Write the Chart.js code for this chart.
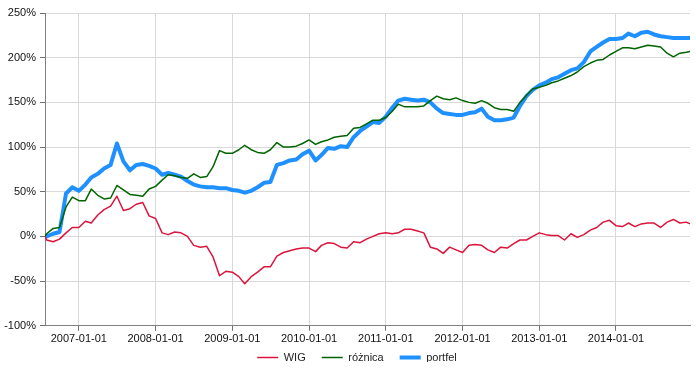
<!DOCTYPE html>
<html>
<head>
<meta charset="utf-8">
<script src="https://cdn.jsdelivr.net/npm/chart.js@4/dist/chart.umd.min.js"></script>
<style>
  html, body { margin: 0; padding: 0; background: #fff; }
  #wrap { width: 696px; height: 374px; }
</style>
</head>
<body>
<div id="wrap"><canvas id="myChart"></canvas></div>
<script>
// Dates (one point per month)
const dates = ['2006-07-24',
    '2006-08-01', '2006-09-01', '2006-10-01', '2006-11-01', '2006-12-01'];
for (let y = 2007; y <= 2014; y++) {
    for (let m = 1; m <= 12; m++) {
        dates.push(y + '-' + (m < 10 ? '0' + m : m) + '-01');
    }
}
dates.push('2014-12-19');

// Series values (%)
const wig = [0,
    -4, -6, -3, 4, 10,
    10, 17, 15, 24, 30, 34, 45, 29, 31, 36, 38, 23,
    20, 4, 2, 5, 4, 0, -10, -12, -11, -23, -44, -39,
    -40, -45, -53, -45, -40, -34, -34, -22, -18, -16, -14, -13,
    -13, -17, -10, -7, -8, -12, -13, -6, -7, -3, 0, 3,
    4, 3, 4, 8, 8, 6, 4, -12, -14, -19, -12, -15,
    -18, -10, -9, -10, -15, -18, -12, -13, -8, -4, -4, 0,
    4, 2, 1, 1, -4, 3, -1, 2, 7, 10, 16, 18,
    12, 11, 15, 11, 14, 15, 15, 10, 16, 19, 15, 16,
    14];

const roznica = [0,
    3, 9, 10, 33, 44,
    40, 40, 53, 46, 42, 43, 57, 52, 47, 46, 45, 53,
    56, 63, 69, 68, 66, 65, 70, 66, 67, 78, 96, 93,
    93, 97, 102, 97, 94, 93, 97, 105, 100, 100, 101, 104,
    108, 103, 106, 108, 111, 112, 113, 121, 122, 126, 130, 130,
    133, 140, 148, 145, 145, 145, 146, 152, 157, 154, 153, 155,
    152, 150, 149, 152, 149, 144, 142, 142, 140, 150, 158, 165,
    167, 169, 172, 174, 177, 180, 184, 190, 194, 197, 198, 203,
    207, 211, 211, 210, 212, 214, 213, 212, 205, 201, 205, 206,
    207];

const portfel = [0,
    0, 3, 5, 48, 55,
    51, 58, 66, 70, 76, 80, 104, 84, 74, 80, 81, 79,
    76, 69, 71, 69, 67, 62, 58, 56, 55, 55, 54, 54,
    52, 51, 49, 51, 55, 60, 61, 80, 82, 85, 86, 92,
    96, 85, 91, 99, 98, 101, 100, 111, 118, 123, 128, 127,
    134, 144, 152, 154, 153, 152, 153, 150, 143, 138, 137, 136,
    136, 138, 139, 143, 134, 130, 130, 131, 133, 146, 157, 164,
    169, 172, 176, 178, 182, 186, 188, 195, 207, 212, 217, 221,
    221, 222, 227, 224, 228, 229, 226, 224, 223, 222, 222, 222,
    222];

// Tick labels of the x axis
const yearTicks = [2007, 2008, 2009, 2010, 2011, 2012, 2013, 2014];

// Conversion d'une date en année décimale
function toYear(s) {
    const p = s.split('-');
    const y = parseInt(p[0]);
    const t = Date.UTC(y, parseInt(p[1]) - 1, parseInt(p[2]));
    const t0 = Date.UTC(y, 0, 1);
    const t1 = Date.UTC(y + 1, 0, 1);
    return y + (t - t0) / (t1 - t0);
}

function points(values) {
    let pts = [];
    for (let i = 0; i < values.length; i++) {
        pts.push({ x: toYear(dates[i]), y: values[i] });
    }
    return pts;
}

// Décalage de la légende (placement comme sur l'original)
const legendShift = {
    id: 'legendShift',
    afterLayout: function(chart) {
        const lg = chart.legend;
        lg.top -= 12; lg.bottom -= 12;
        lg.left += 12; lg.right += 12;
    }
};

Chart.defaults.font.family = '"Liberation Sans", Arial, sans-serif';
Chart.defaults.font.size = 11;
Chart.defaults.color = '#111';

const ctx = document.getElementById('myChart');

new Chart(ctx, {
    type: 'line',
    data: {
        datasets: [{
            label: 'WIG',
            data: points(wig),
            borderColor: '#DC143C',
            borderWidth: 1.5
        }, {
            label: 'różnica',
            data: points(roznica),
            borderColor: '#006400',
            borderWidth: 1.5
        }, {
            label: 'portfel',
            data: points(portfel),
            borderColor: '#1E90FF',
            borderWidth: 4
        }]
    },
    plugins: [legendShift],
    options: {
        responsive: true,
        maintainAspectRatio: false,
        animation: false,
        events: [],
        layout: { padding: { left: 0, right: 6, top: 13, bottom: 0 } },
        elements: {
            point: { radius: 0 },
            line: { tension: 0, borderJoinStyle: 'round' }
        },
        scales: {
            x: {
                type: 'linear',
                min: toYear(dates[0]),
                max: toYear(dates[dates.length - 1]),
                afterBuildTicks: function(scale) {
                    scale.ticks = yearTicks.map(v => ({ value: v }));
                },
                ticks: {
                    callback: v => v + '-01-01',
                    maxRotation: 0,
                    autoSkip: false,
                    padding: 2
                },
                grid: { color: '#d9d9d9', tickColor: '#707070', tickLength: 5 },
                border: { color: '#808080' }
            },
            y: {
                min: -100,
                max: 250,
                ticks: {
                    stepSize: 50,
                    callback: v => v + '%',
                    padding: 4
                },
                afterFit: function(scale) { scale.width = 45; },
                grid: { color: '#d9d9d9', tickColor: '#707070', tickLength: 5 },
                border: { color: '#808080' }
            }
        },
        plugins: {
            tooltip: { enabled: false },
            legend: {
                position: 'bottom',
                maxHeight: 26,
                labels: {
                    usePointStyle: true,
                    pointStyle: 'line',
                    pointStyleWidth: 21,
                    padding: 16,
                    color: '#222'
                }
            }
        }
    }
});
</script>
</body>
</html>
